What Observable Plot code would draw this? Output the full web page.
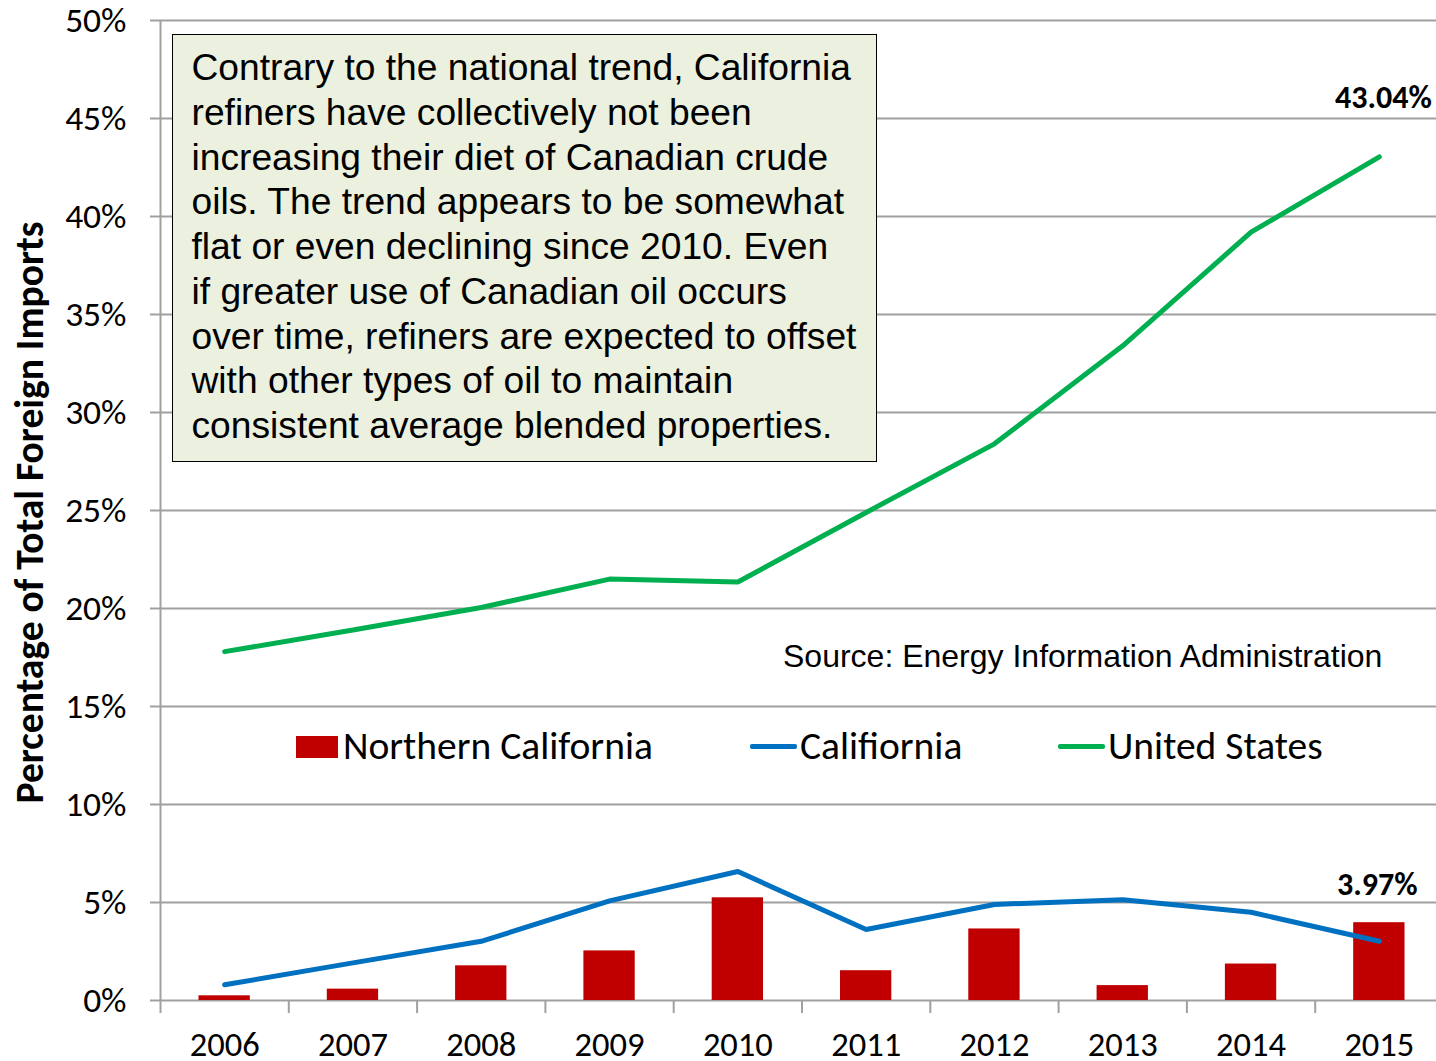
<!DOCTYPE html>
<html><head><meta charset="utf-8">
<script src="https://cdn.jsdelivr.net/npm/d3@7"></script>
<script src="https://cdn.jsdelivr.net/npm/@observablehq/plot@0.6"></script>
<style>
body{margin:0;background:#fff;}
#wrap{position:relative;width:1436px;height:1061px;overflow:hidden;background:#fff;}
#wrap svg{position:absolute;left:0;top:0;}
#note{position:absolute;left:172px;top:34px;width:705px;height:428px;box-sizing:border-box;border:1.5px solid #000;background:#ebf0df;font-family:"Liberation Sans",Arial,sans-serif;font-size:37.2px;line-height:44.75px;padding:10px 0 0 18.5px;color:#000;white-space:nowrap;}
#source{position:absolute;left:783px;top:636px;font-family:"Liberation Sans",Arial,sans-serif;font-size:32px;line-height:40px;color:#000;white-space:nowrap;}
.leg{position:absolute;top:723px;font-family:Carlito,Lato,sans-serif;font-size:39.5px;line-height:46px;color:#000;white-space:nowrap;}
.sw{position:absolute;}
</style>
</head><body>
<div id="wrap"></div>
<script>
// ---- data ----
const years = [2006, 2007, 2008, 2009, 2010, 2011, 2012, 2013, 2014, 2015];
const northernCalifornia = [0.24, 0.58, 1.77, 2.53, 5.24, 1.52, 3.65, 0.76, 1.86, 3.97];
const california = [0.80, 1.92, 3.02, 5.08, 6.58, 3.62, 4.90, 5.14, 4.50, 3.02];
const unitedStates = [17.8, 18.9, 20.05, 21.5, 21.35, 24.9, 28.4, 33.4, 39.2, 43.04];
const yTicks = [0, 5, 10, 15, 20, 25, 30, 35, 40, 45, 50];
const seriesNames = ["Northern California", "Califiornia", "United States"];
const seriesColors = ["#c00000", "#0070c0", "#00b050"];
const noteLines = [
  "Contrary to the national trend, California",
  "refiners have collectively not been",
  "increasing their diet of Canadian crude",
  "oils. The trend appears to be somewhat",
  "flat or even declining since 2010. Even",
  "if greater use of Canadian oil occurs",
  "over time, refiners are expected to offset",
  "with other types of oil to maintain",
  "consistent average blended properties."
];
const sourceText = "Source: Energy Information Administration";
const yTitle = "Percentage of Total Foreign Imports";

// ---- tables ----
const barData = years.map((year, i) => ({year, value: northernCalifornia[i]}));
const caData = years.map((year, i) => ({year, value: california[i]}));
const usData = years.map((year, i) => ({year, value: unitedStates[i]}));
const boundaries = years.map(y => y - 0.5).concat([years[years.length - 1] + 0.5]);
const lastUS = [usData[usData.length - 1]];
const lastNC = [barData[barData.length - 1]];
const grid = "#a0a0a0";
const tickFont = "Carlito, Lato, sans-serif";

const chart = Plot.plot({
  width: 1436,
  height: 1061,
  marginTop: 20,
  marginBottom: 61,
  marginLeft: 160,
  marginRight: 0,
  style: {fontFamily: tickFont, background: "transparent", overflow: "visible"},
  x: {domain: [years[0] - 0.5, years[years.length - 1] + 0.5], range: [160, 1443]},
  y: {domain: [0, 50]},
  marks: [
    Plot.ruleY(yTicks, {stroke: grid, strokeWidth: 2}),
    Plot.ruleX([boundaries[0]], {stroke: grid, strokeWidth: 2}),
    Plot.axisY({ticks: yTicks, tickFormat: d => d + "%", tickSize: 10, tickPadding: 24,
      stroke: grid, strokeWidth: 2, fill: "#000", fontSize: 35.5, label: null}),
    Plot.axisX({ticks: boundaries, tickFormat: () => "", tickSize: 13, stroke: grid, strokeWidth: 2, label: null}),
    Plot.axisX({ticks: years, tickFormat: d => String(d), tickSize: 0, tickPadding: 31, fill: "#000", fontSize: 34.5, label: null}),
    Plot.rectY(barData, {x1: d => d.year - 0.2, x2: d => d.year + 0.2, y1: 0, y2: "value", fill: seriesColors[0]}),
    Plot.line(caData, {x: "year", y: "value", stroke: seriesColors[1], strokeWidth: 5, strokeLinejoin: "miter"}),
    Plot.line(usData, {x: "year", y: "value", stroke: seriesColors[2], strokeWidth: 5, strokeLinejoin: "miter"}),
    Plot.text(lastUS, {x: "year", y: "value", text: d => d.value.toFixed(2) + "%", dy: -59, dx: 4,
      fontSize: 32, fontWeight: "bold", fill: "#000"}),
    Plot.text(lastNC, {x: "year", y: "value", text: d => d.value.toFixed(2) + "%", dy: -38, dx: -2,
      fontSize: 32, fontWeight: "bold", fill: "#000"}),
    Plot.text([yTitle], {frameAnchor: "left", textAnchor: "middle", dx: -130, dy: 2, rotate: -90, fontSize: 39.5, fontWeight: "bold", fill: "#000"})
  ]
});

const wrap = document.getElementById("wrap");
wrap.appendChild(chart);

// annotation box
const note = document.createElement("div");
note.id = "note";
note.innerHTML = noteLines.join("<br>");
wrap.appendChild(note);

// source
const src = document.createElement("div");
src.id = "source";
src.textContent = sourceText;
wrap.appendChild(src);

// legend
const legendPos = [
  {sw: {left: 296, top: 736, width: 42, height: 22}, text: 343},
  {sw: {left: 750, top: 744, width: 47, height: 5}, text: 800},
  {sw: {left: 1058, top: 744, width: 47, height: 5}, text: 1108}
];
seriesNames.forEach((name, i) => {
  const s = document.createElement("div");
  s.className = "sw";
  const p = legendPos[i].sw;
  Object.assign(s.style, {left: p.left + "px", top: p.top + "px", width: p.width + "px", height: p.height + "px",
    background: seriesColors[i], borderRadius: i === 0 ? "0" : "2px"});
  wrap.appendChild(s);
  const t = document.createElement("div");
  t.className = "leg";
  t.style.left = legendPos[i].text + "px";
  t.textContent = name;
  wrap.appendChild(t);
});
</script>
</body></html>
